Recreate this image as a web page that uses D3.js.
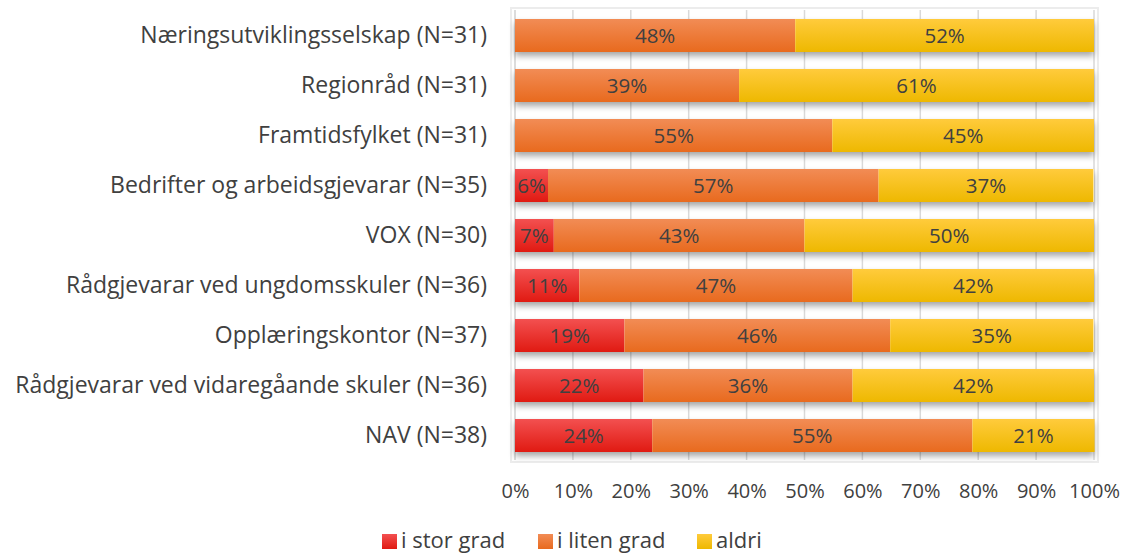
<!DOCTYPE html>
<html><head><meta charset="utf-8">
<script src="https://cdn.jsdelivr.net/npm/d3@7"></script>
<style>body{margin:0;background:#fff;}svg{display:block;font-family:'Open Sans',sans-serif;}</style>
</head><body><svg id="c" width="1127" height="556"></svg>
<script>
const categories = ["Næringsutviklingsselskap (N=31)","Regionråd (N=31)","Framtidsfylket (N=31)","Bedrifter og arbeidsgjevarar (N=35)","VOX (N=30)","Rådgjevarar ved ungdomsskuler (N=36)","Opplæringskontor (N=37)","Rådgjevarar ved vidaregåande skuler (N=36)","NAV (N=38)"];
const storGrad  = [0, 0, 0, 5.7, 6.7, 11.1, 18.9, 22.2, 23.7];
const litenGrad = [48.4, 38.7, 54.8, 57.1, 43.3, 47.2, 45.9, 36.1, 55.3];
const aldri     = [51.6, 61.3, 45.2, 37.1, 50.0, 41.7, 35.1, 41.7, 21.1];
const seriesNames = ["i stor grad","i liten grad","aldri"];
const tickValues = [0,10,20,30,40,50,60,70,80,90,100];

const FONT = "'Open Sans',sans-serif";
const svg = d3.select("#c");
const defs = svg.append("defs");
const grads = [["#f35050","#e01a12"],["#f28c55","#e86a1e"],["#ffcb3c","#eeb800"]];
grads.forEach((g,i)=>{
  const lg = defs.append("linearGradient").attr("id","g"+i).attr("x1",0).attr("y1",0).attr("x2",0).attr("y2",1);
  lg.append("stop").attr("offset","0%").attr("stop-color",g[0]);
  lg.append("stop").attr("offset","100%").attr("stop-color",g[1]);
});
const f = defs.append("filter").attr("id","sh").attr("x","-5%").attr("y","-30%").attr("width","110%").attr("height","180%");
f.append("feDropShadow").attr("dx",0).attr("dy",4).attr("stdDeviation",3).attr("flood-color","#000").attr("flood-opacity",0.35);

const x = d3.scaleLinear().domain([0,100]).range([515,1094]);
const y = d3.scaleBand().domain(categories).range([10.5,460.5]).paddingInner(0.34).paddingOuter(0.17);

svg.append("rect").attr("x",511).attr("y",8).attr("width",587).attr("height",454).attr("fill","#fff").attr("stroke","#ececec").attr("stroke-width",2);

svg.append("g").selectAll("line").data(tickValues.slice(1)).join("line")
  .attr("x1",d=>x(d)).attr("x2",d=>x(d)).attr("y1",10).attr("y2",460)
  .attr("stroke","#d9d9d9").attr("stroke-width",1.5);
svg.append("line").attr("x1",x(0)).attr("x2",x(0)).attr("y1",10).attr("y2",460).attr("stroke","#d0d0d0").attr("stroke-width",1.5);

const data = categories.map((c,i)=>({cat:c, v:[storGrad[i],litenGrad[i],aldri[i]]}));
const stack = data.map(d=>{let acc=0; return d.v.map((v,k)=>{const s={cat:d.cat,k,v,x0:acc,x1:acc+v}; acc+=v; return s;});});

svg.append("g").selectAll("rect").data(data).join("rect")
  .attr("x",x(0)).attr("y",d=>y(d.cat)).attr("width",x(100)-x(0)).attr("height",y.bandwidth())
  .attr("fill","#fff").attr("filter","url(#sh)");

const segs = stack.flat().filter(s=>s.v>0);
svg.append("g").selectAll("rect").data(segs).join("rect")
  .attr("x",s=>x(s.x0)).attr("y",s=>y(s.cat)).attr("width",s=>x(s.x1)-x(s.x0)).attr("height",y.bandwidth())
  .attr("fill",s=>`url(#g${s.k})`);

svg.append("g").selectAll("text").data(segs).join("text")
  .attr("x",s=>x((s.x0+s.x1)/2)).attr("y",s=>y(s.cat)+y.bandwidth()/2).attr("dy","0.36em")
  .attr("text-anchor","middle").attr("fill","#404040").attr("font-size",20.5).attr("font-family",FONT)
  .text(s=>Math.round(s.v)+"%");

const ya = d3.axisLeft(y).tickSize(0).tickPadding(28);
const yg = svg.append("g").attr("transform",`translate(${x(0)},0)`).call(ya);
yg.select(".domain").remove();
yg.selectAll("text").attr("font-size",23).attr("fill","#404040").attr("font-family",FONT);

const xa = d3.axisBottom(x).tickValues(tickValues).tickFormat(d=>d+"%").tickSize(0).tickPadding(14);
const xg = svg.append("g").attr("transform","translate(0,470)").call(xa);
xg.select(".domain").remove();
xg.selectAll("text").attr("font-size",20).attr("fill","#404040").attr("font-family",FONT);

const legX = [382, 538, 697];
const lg = svg.append("g");
seriesNames.forEach((n,i)=>{
  lg.append("rect").attr("x",legX[i]).attr("y",534).attr("width",15).attr("height",15).attr("fill",`url(#g${i})`);
  lg.append("text").attr("x",legX[i]+19).attr("y",540).attr("dy","0.36em").attr("font-size",22).attr("font-family",FONT).attr("fill","#404040").text(n);
});
</script></body></html>
